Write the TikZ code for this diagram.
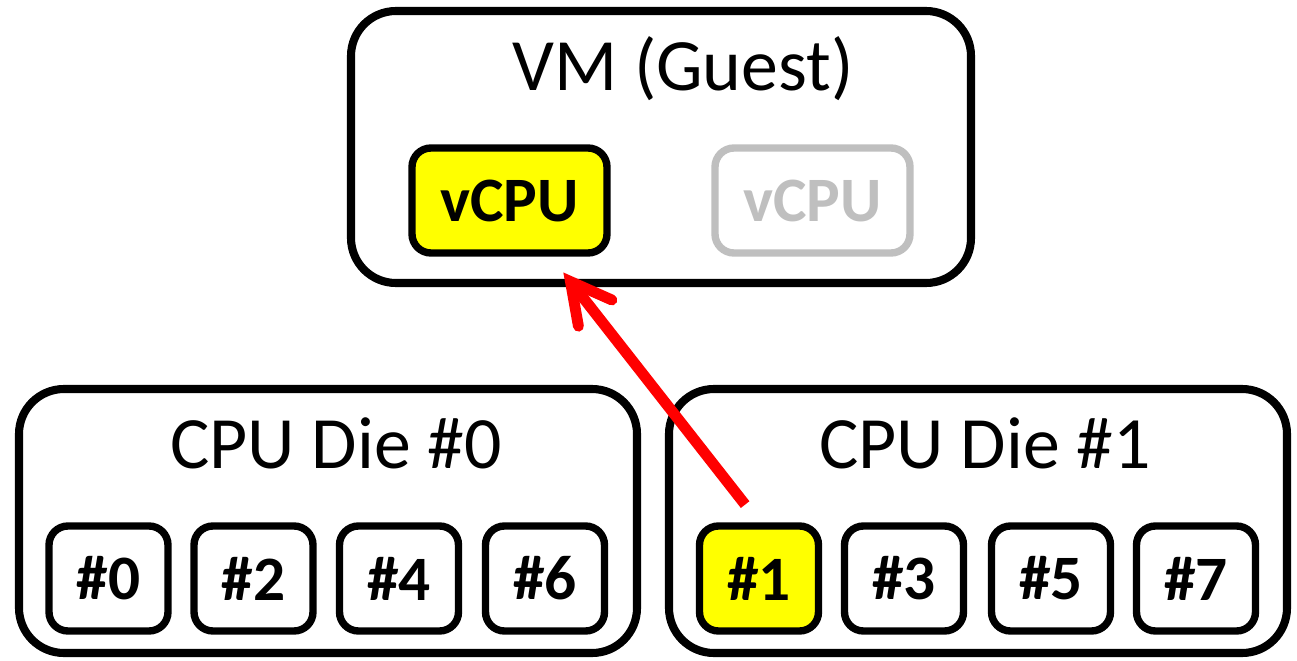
\documentclass[tikz,border=0pt]{standalone}
\usepackage{fontspec}
\setmainfont{Carlito}
\usepackage{xcolor}
\usetikzlibrary{arrows.meta}
\definecolor{hiyellow}{HTML}{FFFF00}
\definecolor{offgray}{HTML}{BFBFBF}

\begin{document}
\begin{tikzpicture}[
  bigbox/.style={draw, line width=4.6pt, rounded corners=0.9cm, inner sep=0pt,
    minimum width=12.36cm, minimum height=5.28cm},
  smallbox/.style={draw, line width=4.2pt, rounded corners=0.38cm, inner sep=0pt,
    font=\fontsize{36}{36}\selectfont\bfseries},
  vcpubox/.style={smallbox, minimum width=3.9cm, minimum height=2.1cm},
  core/.style={smallbox, minimum width=2.38cm, minimum height=2.1cm},
  boxtitle/.style={anchor=base, font=\fontsize{42}{42}\selectfont}
]
\useasboundingbox (0,0) rectangle (25.94,-13.22);

% guest
\node[bigbox, minimum width=12.4cm, minimum height=5.44cm] (vm) at (13.22,-2.94) {};
\node[boxtitle] (vmtitle) at (13.66,-1.8) {VM (Guest)};
\node[vcpubox, fill=hiyellow] (vcpu) at (10.19,-4.01) {vCPU};
\node[vcpubox, draw=offgray, text=offgray] (vcpuoff) at (16.25,-4.01) {vCPU};

% dies
\node[bigbox] (die0) at (6.56,-10.42) {};
\node[bigbox] (die1) at (19.56,-10.42) {};
\node[boxtitle] (die0title) at (6.72,-9.36) {CPU Die \#0};
\node[boxtitle] (die1title) at (19.7,-9.36) {CPU Die \#1};

% cores
\foreach \n/\x in {0/2.17,2/5.07,4/7.98,6/10.9}
  \node[core] (c\n) at (\x,-11.57) {\#\n};
\node[core, fill=hiyellow] (c1) at (15.18,-11.57) {\#1};
\foreach \n/\x in {3/18.08,5/21.02,7/23.92}
  \node[core] (c\n) at (\x,-11.57) {\#\n};

% pinning
\draw[red, line width=6.2pt,
  -{Straight Barb[length=0.8cm, width=0.85cm, line cap=round, line join=miter]},
  shorten <=0.45cm, shorten >=0.4cm]
  (c1.north) -- ([xshift=0.83cm]vcpu.south);
\end{tikzpicture}
\end{document}
